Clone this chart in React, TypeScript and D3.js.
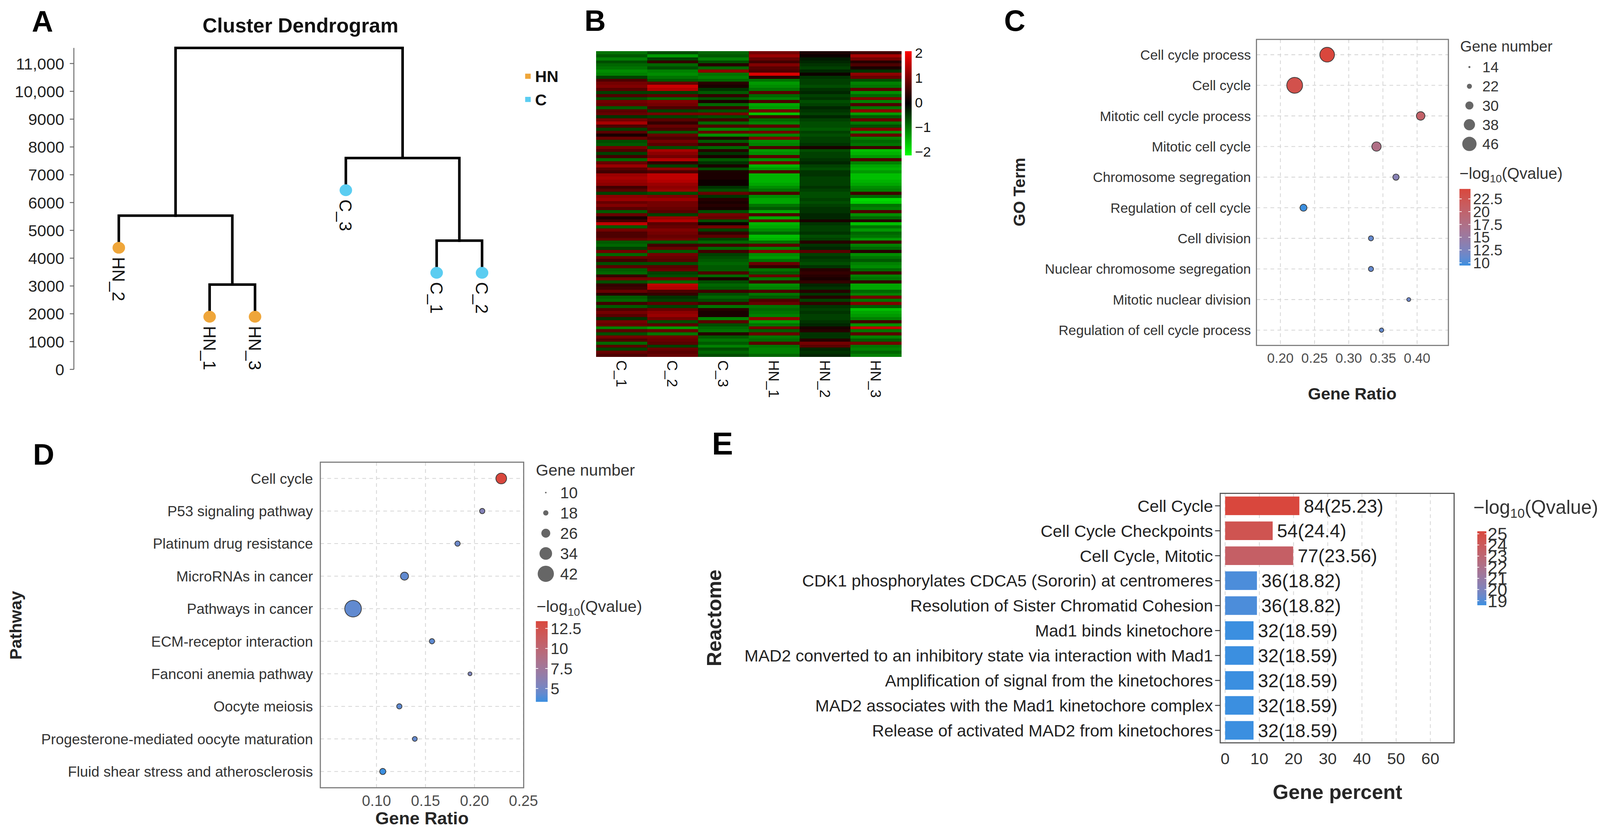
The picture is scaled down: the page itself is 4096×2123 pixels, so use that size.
import React, { useEffect } from 'react';
import * as d3 from 'd3';

const FONT = '"Liberation Sans", Arial, Helvetica, sans-serif';
const W = 4342;
const H = 2251;

// ---------- A: cluster dendrogram ----------
const leafNames = ['HN_2', 'HN_1', 'HN_3', 'C_3', 'C_1', 'C_2'];
const leafGroups = ['HN', 'HN', 'HN', 'C', 'C', 'C'];
const leafSlots = [0, 2, 3, 5, 7, 8];
// hclust style merges: negative = leaf (1-based), positive = earlier merge (1-based)
const mergeLeft = [-2, -1, -5, -4, 2];
const mergeRight = [-3, 1, -6, 3, 4];
const mergeHeights = [3050, 5530, 4630, 7600, 11560];
const dendroTicks = [0, 1000, 2000, 3000, 4000, 5000, 6000, 7000, 8000, 9000, 10000, 11000];
const dendroTickLabels = ['0', '1000', '2000', '3000', '4000', '5000', '6000', '7000', '8000', '9000', '10,000', '11,000'];
const groupNames = ['HN', 'C'];
const groupColors: Record<string, string> = { HN: '#EFA63A', C: '#5BCDF1' };

// ---------- B: heatmap (rows top to bottom) ----------
const heatCols = ['C_1', 'C_2', 'C_3', 'HN_1', 'HN_2', 'HN_3'];
const heatC1 = [
  -0.9, -0.7, -1, -0.6, -0.8, -0.9, -1.1, -1, -0.5, 0.6,
  0.9, 1, 0.7, -0.5, 0.6, -0.6, 0.9, 0.8, -0.7, 0.7,
  0.8, -0.4, 0.9, 1.3, 0.6, -0.5, 0.7, 0.2, 0.8, -0.6,
  -0.7, 0.9, 0.6, -0.5, 0.5, -0.8, 0.8, 1.2, 0.7, 0.5,
  1.2, 1.3, 1.2, 1.1, 0.5, 0.7, -0.5, 1.1, 1.2, 0.8,
  1, 0.7, -0.7, 0.8, 0.2, 0.5, 1.5, -0.7, 0.9, 0.6,
  0.6, 0.8, -0.7, -0.8, -0.5, 0.9, -0.8, 0.8, 0.5, -0.6,
  0.7, -0.7, -0.8, 0.4, 0.9, -0.6, 0.4, 0.5, 0.8, 0.3,
  -0.7, -0.8, 0.5, -0.7, 0.6, 0.9, 0.7, -0.4, 0.9, 0.8,
  -1, 0.7, -0.6, 0.9, 0.6, -0.8, 0.7, -0.5, 0.8, 0.6,
];
const heatC2 = [
  -0.6, -1.2, -0.5, 0.4, -0.8, -0.6, -1, -1.1, -0.9, -0.7,
  0.8, 1.6, 1.4, -0.5, 0.7, -0.8, 1, 0.9, 0.6, -0.5,
  0.9, -0.5, 0.7, 0.4, 0.8, 0.6, -0.7, 0.8, 0.6, 0.9,
  0.7, -0.6, 1.3, 1.1, 0.9, 1.4, 0.4, -0.5, 1.1, 0.6,
  1.5, 1.5, 1.4, 1.2, 1.1, 1.2, -0.6, 1, 1.2, 0.9,
  0.9, 0.8, 0.7, -0.5, 1.2, 1.4, 0.7, 0.8, 1, 0.9,
  0.8, 0.9, -0.7, 0.5, 0.8, -0.7, 0.9, 0.8, 0.7, -0.6,
  0.7, 0.8, -0.5, -0.6, 0.9, -0.8, 1.5, 1.4, 0.6, 0.4,
  -0.4, -0.5, 0.7, -0.5, 0.8, 1.1, 1.2, 0.9, -0.6, 0.7,
  -1.2, 0.8, -0.9, 0.9, 0.8, 0.7, -0.5, 0.8, 0.7, 0.8,
];
const heatC3 = [
  -0.8, -0.7, -1, -0.6, 0.3, -0.8, 1.1, -0.9, -1, -0.8,
  0.3, 0.2, -0.4, -0.7, 0.4, -0.6, 0.2, -0.8, 0.5, -0.6,
  0.9, -0.6, 0.5, -0.8, 0.6, -1, 0.8, -1.1, 0.3, -0.7,
  0.4, -0.8, 0.3, -0.4, 0.2, -0.7, -0.4, 0.2, -0.6, 0.2,
  0.2, 0.2, 0.1, 0.1, -0.4, -0.6, 0.8, -0.4, 0.3, 0.2,
  0.3, 0.2, -0.6, 0.9, 0.8, -0.6, 0.1, 0.9, -0.5, 0.4,
  0.7, -0.5, -0.8, 0.5, -0.8, 0.5, -0.5, -0.6, -0.7, -0.8,
  -0.7, -0.7, 0.6, -0.8, 0.2, -0.6, -0.8, -0.7, 0.5, -0.6,
  -0.8, -0.6, 0.5, -0.9, 0.3, 0.2, 0.2, -1, 0.7, -0.6,
  -0.8, -0.9, 0.3, -0.7, -0.9, -0.7, -1, -0.6, -0.8, -0.6,
];
const heatHN1 = [
  0.9, 1.2, 0.8, 0.5, 1, 0.7, 0.6, 1.7, 0.3, -0.9,
  -1.2, -1.1, -0.9, 0.7, -0.8, -1, 0.6, -1.3, -1.2, 0.9,
  -1.5, 0.6, -0.8, -1, 0.7, -0.9, 0.9, -1, 1, -1.1,
  -1, 0.6, -1.2, -1.1, 0.7, -1.1, 0.9, -1.4, -1.2, 0.6,
  -1.4, -1.4, -1.4, -1.3, -1.1, -0.9, 0.6, -1.1, -1.3, -1.3,
  -0.9, -0.7, -1.3, 0.6, -1.3, 0.8, -1.4, -1.3, -1.1, -0.8,
  -1.5, -1.4, -0.9, 0.7, -1, 1, -1.1, -1.2, -0.9, 0.8,
  0.4, -0.9, -0.7, 0.8, -0.9, 0.5, -1.1, -1, 0.6, -0.9,
  -0.7, 0.6, 0.8, -0.9, -0.8, -0.9, -1, 1.1, -1.2, -0.9,
  0.9, -0.7, 0.8, -0.9, -0.8, 0.7, -0.9, -1, -1, -0.8,
];
const heatHN2 = [
  0.2, 0.1, -0.2, -0.3, -0.4, -0.5, -0.3, 0.1, -0.4, -0.5,
  -0.5, -0.6, -0.4, -0.3, -0.5, -0.4, -0.6, -0.5, -0.3, -0.4,
  -0.5, -0.3, -0.5, -0.6, -0.6, -0.7, -0.5, -0.6, -0.5, -0.5,
  -0.4, 0.2, -0.6, -0.5, -0.5, -0.4, -0.3, -0.5, -0.6, -0.4,
  -0.4, -0.5, -0.5, -0.5, -0.4, -0.5, -0.6, -0.6, -0.5, -0.6,
  -0.5, -0.4, -0.4, -0.3, -0.3, 0.2, -0.4, -0.5, -0.5, -0.4,
  -0.6, -0.5, 0.3, -0.4, -0.3, 0.7, -0.5, -0.4, -0.5, -0.6,
  -0.4, 0.3, 0.4, 0.3, 0.2, 0.4, -0.3, -0.4, 0.3, -0.4,
  0.3, -0.5, 0.4, -0.4, -0.5, -0.4, -0.5, -0.5, -0.4, -0.3,
  0.2, 0.3, -0.4, -0.4, 0.3, 0.9, 0.7, -0.3, -0.4, -0.3,
];
const heatHN3 = [
  0.5, 1.3, 0.9, 0.3, 0.6, 0.2, -0.4, 1.1, 0.8, -0.6,
  -1, -0.9, 0.7, -1.1, -0.8, 1, -1, 0.6, -0.9, 1.1,
  -1.2, -0.7, 0.8, -0.9, -0.6, 1, -1.1, 0.8, -1, -0.8,
  -0.9, 0.5, -1.5, -1.4, -1.2, 0.6, -1, -1.3, -1.4, -1.2,
  -1.5, -1.5, -1.4, -1.3, -1.1, -1, 0.5, -0.8, -1.7, -1.6,
  -0.9, -1, 0.6, -1.1, -0.8, 0.3, -1.5, -0.9, -1.2, -0.8,
  -0.9, -1.2, 0.5, -1, -0.8, 0.3, -1.1, -0.9, -0.7, -1,
  -1.1, -0.8, 0.5, -1, -0.9, 0.4, -1.3, -1.3, -0.8, -1,
  0.9, -0.9, 1, -0.7, -1.5, -1.3, -1.2, -1, 0.5, -1.1,
  1.5, -0.9, 0.7, -1, -0.7, 0.9, -0.9, -1, -0.8, -1,
];
const heatValues = [heatC1, heatC2, heatC3, heatHN1, heatHN2, heatHN3];
const heatTicks = [2, 1, 0, -1, -2];

// ---------- C: GO enrichment ----------
const goTerms = [
  'Cell cycle process', 'Cell cycle', 'Mitotic cell cycle process', 'Mitotic cell cycle',
  'Chromosome segregation', 'Regulation of cell cycle', 'Cell division',
  'Nuclear chromosome segregation', 'Mitotic nuclear division', 'Regulation of cell cycle process',
];
const goRatio = [0.2684, 0.2209, 0.4052, 0.3406, 0.3691, 0.2338, 0.3325, 0.3325, 0.3878, 0.348];
const goCount = [47, 50, 31, 33, 25, 27, 22, 22, 19, 20];
const goQ = [24.45, 23.0, 20.4, 17.6, 13.3, 9.46, 11.0, 11.0, 11.6, 10.9];
const goRatioTicks = [0.2, 0.25, 0.3, 0.35, 0.4];
const goSizeBreaks = [14, 22, 30, 38, 46];
const goColorTicks = [10, 12.5, 15, 17.5, 20, 22.5];

// ---------- D: KEGG pathway ----------
const keggTerms = [
  'Cell cycle', 'P53 signaling pathway', 'Platinum drug resistance', 'MicroRNAs in cancer',
  'Pathways in cancer', 'ECM-receptor interaction', 'Fanconi anemia pathway', 'Oocyte meiosis',
  'Progesterone-mediated oocyte maturation', 'Fluid shear stress and atherosclerosis',
];
const keggRatio = [0.2273, 0.2079, 0.1827, 0.1286, 0.0761, 0.1566, 0.1954, 0.1233, 0.1391, 0.1064];
const keggCount = [30, 18, 18, 24, 43, 18, 15, 18, 17, 20];
const keggQ = [13.41, 5.7, 4.7, 4.3, 4.3, 4.2, 5.4, 4.2, 4.4, 3.34];
const keggRatioTicks = [0.1, 0.15, 0.2, 0.25];
const keggSizeBreaks = [10, 18, 26, 34, 42];
const keggColorTicks = [5, 7.5, 10, 12.5];

// ---------- E: Reactome ----------
const reacTerms = [
  'Cell Cycle', 'Cell Cycle Checkpoints', 'Cell Cycle, Mitotic',
  'CDK1 phosphorylates CDCA5 (Sororin) at centromeres', 'Resolution of Sister Chromatid Cohesion',
  'Mad1 binds kinetochore', 'MAD2 converted to an inhibitory state via interaction with Mad1',
  'Amplification of signal from the kinetochores', 'MAD2 associates with the Mad1 kinetochore complex',
  'Release of activated MAD2 from kinetochores',
];
const reacCount = [84, 54, 77, 36, 36, 32, 32, 32, 32, 32];
const reacQ = [25.23, 24.4, 23.56, 18.82, 18.82, 18.59, 18.59, 18.59, 18.59, 18.59];
const reacPercent = [21.7, 13.9, 19.9, 9.3, 9.3, 8.3, 8.3, 8.3, 8.3, 8.3];
const reacTicks = [0, 10, 20, 30, 40, 50, 60];
const reacColorTicks = [19, 20, 21, 22, 23, 24, 25];

const LOW = '#3B8FE0';
const HIGH = '#D9473D';
const GRID = '#d6d6d6';
const BOX = '#7a7a7a';

function PanelLetter({ x, y, t, size = 80 }: { x: number; y: number; t: string; size?: number }) {
  return <text x={x} y={y} fontSize={size} fontWeight="bold" fill="#000">{t}</text>;
}

function QTitle({ x, y, fs }: { x: number; y: number; fs: number }) {
  return (
    <text x={x} y={y} fontSize={fs} fill="#333">
      −log<tspan fontSize={fs * 0.68} dy={fs * 0.22}>10</tspan><tspan dy={-fs * 0.22}>(Qvalue)</tspan>
    </text>
  );
}

function ColorBar({ id, domain, x, w, y0, y1, ticks, labelX, fs }: any) {
  const col = d3.scaleLinear<string>().domain(domain).range([LOW, HIGH]).interpolate(d3.interpolateLab);
  const cy = d3.scaleLinear().domain(domain).range([y1, y0]);
  const stops = d3.range(0, 1.0001, 0.1);
  return (
    <g>
      <defs>
        <linearGradient id={id} x1="0" y1="1" x2="0" y2="0">
          {stops.map(s => (
            <stop key={s} offset={s} stopColor={col(domain[0] + s * (domain[1] - domain[0]))} />
          ))}
        </linearGradient>
      </defs>
      <rect x={x} y={y0} width={w} height={y1 - y0} fill={`url(#${id})`} />
      {ticks.map((t: number) => (
        <g key={t}>
          <line x1={x} x2={x + w * 0.2} y1={cy(t)} y2={cy(t)} stroke="#fff" strokeWidth={2} />
          <line x1={x + w * 0.8} x2={x + w} y1={cy(t)} y2={cy(t)} stroke="#fff" strokeWidth={2} />
          <text x={labelX} y={cy(t)} dy="0.36em" fontSize={fs} fill="#333">{t}</text>
        </g>
      ))}
    </g>
  );
}

function PanelA() {
  const y = d3.scaleLinear().domain([0, 11000]).range([1003, 172.5]);
  const x = d3.scaleLinear().domain([0, 8]).range([322, 1308]);
  const hang = 0.1 * (d3.max(mergeHeights) as number);
  const leafParentH = leafNames.map((_, i) => {
    const k = mergeLeft.findIndex((v, j) => v === -(i + 1) || mergeRight[j] === -(i + 1));
    return mergeHeights[k];
  });
  const leafPos = leafNames.map((_, i) => ({ x: x(leafSlots[i]), h: leafParentH[i] - hang }));
  const mergePos: { x: number; h: number }[] = [];
  const pos = (id: number) => (id < 0 ? leafPos[-id - 1] : mergePos[id - 1]);
  const paths: string[] = [];
  mergeHeights.forEach((h, k) => {
    const a = pos(mergeLeft[k]);
    const b = pos(mergeRight[k]);
    mergePos.push({ x: (a.x + b.x) / 2, h });
    paths.push(`M${a.x},${y(a.h)}V${y(h)}H${b.x}V${y(b.h)}`);
  });
  const top = d3.max(mergeHeights) as number;
  return (
    <g>
      <PanelLetter x={86} y={86} t="A" />
      <text x={815} y={88} textAnchor="middle" fontSize={55} fontWeight="bold" fill="#111">Cluster Dendrogram</text>
      <line x1={200} x2={200} y1={y(0)} y2={y(top)} stroke="#666" strokeWidth={2.5} />
      {dendroTicks.map((t, i) => (
        <g key={t}>
          <line x1={189} x2={200} y1={y(t)} y2={y(t)} stroke="#666" strokeWidth={2.5} />
          <text x={174} y={y(t)} dy="0.36em" textAnchor="end" fontSize={44} fill="#222">{dendroTickLabels[i]}</text>
        </g>
      ))}
      {paths.map((p, i) => (
        <path key={i} d={p} fill="none" stroke="#000" strokeWidth={7} strokeLinecap="square" />
      ))}
      {leafNames.map((n, i) => (
        <g key={n}>
          <ellipse cx={leafPos[i].x} cy={y(leafPos[i].h)} rx={17} ry={16} fill={groupColors[leafGroups[i]]} />
          <text
            transform={`translate(${leafPos[i].x},${y(leafPos[i].h) + 25}) rotate(90)`}
            dy="0.36em" fontSize={47} fill="#111"
          >{n}</text>
        </g>
      ))}
      {groupNames.map((g, i) => (
        <g key={g}>
          <rect x={1425} y={200 + i * 63} width={15} height={14} fill={groupColors[g]} />
          <text x={1452} y={207 + i * 63} dy="0.36em" fontSize={44} fontWeight="bold" fill="#111">{g}</text>
        </g>
      ))}
    </g>
  );
}

function PanelB() {
  const x = d3.scaleBand().domain(heatCols).range([1618, 2446]);
  const nRows = heatC1.length;
  const y = d3.scaleBand<number>().domain(d3.range(nRows)).range([139, 969]);
  const col = d3.scaleLinear<string>().domain([-2, 0, 2]).range(['#00FF00', '#000000', '#FF0000']).clamp(true);
  const ly = d3.scaleLinear().domain([-2, 2]).range([412, 143.6]);
  return (
    <g>
      <PanelLetter x={1586} y={84} t="B" />
      <g shapeRendering="crispEdges">
        {heatCols.map((c, ci) =>
          heatValues[ci].map((v, ri) => (
            <rect key={c + ri} x={x(c)} y={y(ri)} width={x.bandwidth() + 0.6} height={y.bandwidth() + 0.6} fill={col(v)} />
          ))
        )}
      </g>
      {heatCols.map(c => (
        <text key={c} transform={`translate(${(x(c) as number) + x.bandwidth() / 2},978) rotate(90)`}
          dy="0.36em" fontSize={40} fill="#111">{c}</text>
      ))}
      <defs>
        <linearGradient id="heatGrad" x1="0" y1="0" x2="0" y2="1">
          <stop offset="0" stopColor="#FF0000" />
          <stop offset="0.5" stopColor="#000000" />
          <stop offset="1" stopColor="#00FF00" />
        </linearGradient>
      </defs>
      <rect x={2456} y={139} width={18} height={283} fill="url(#heatGrad)" />
      {heatTicks.map(t => (
        <text key={t} x={2483} y={ly(t)} dy="0.36em" fontSize={38} fill="#111">{t < 0 ? `−${-t}` : t}</text>
      ))}
    </g>
  );
}

function DotPlot({ cfg }: { cfg: any }) {
  const { box } = cfg;
  const x = d3.scaleLinear().domain(cfg.xDomain).range([box.x0, box.x1]);
  const y = d3.scalePoint<string>().domain(cfg.terms).range([box.y0, box.y1]).padding(0.5);
  const r = d3.scaleLinear().domain(cfg.sizeDomain).range(cfg.sizeRange);
  const qDomain = d3.extent(cfg.q as number[]) as [number, number];
  const col = d3.scaleLinear<string>().domain(qDomain).range([LOW, HIGH]).interpolate(d3.interpolateLab);
  const fmt = d3.format('.2f');
  return (
    <g>
      {cfg.terms.map((t: string) => (
        <line key={t} x1={box.x0} x2={box.x1} y1={y(t)} y2={y(t)} stroke={GRID} strokeWidth={2.2} strokeDasharray="10 9" />
      ))}
      {cfg.xTicks.map((t: number) => (
        <line key={t} x1={x(t)} x2={x(t)} y1={box.y0} y2={box.y1} stroke={GRID} strokeWidth={2.2} strokeDasharray="10 9" />
      ))}
      <rect x={box.x0} y={box.y0} width={box.x1 - box.x0} height={box.y1 - box.y0} fill="none" stroke={BOX} strokeWidth={3} />
      {cfg.terms.map((t: string, i: number) => (
        <circle key={t} cx={x(cfg.ratio[i])} cy={y(t)} r={r(cfg.count[i])} fill={col(cfg.q[i])} stroke="#3a3a3a" strokeWidth={2} />
      ))}
      {cfg.terms.map((t: string) => (
        <text key={t} x={cfg.labelX} y={y(t)} dy="0.36em" textAnchor="end" fontSize={cfg.labelFont} fill="#333">{t}</text>
      ))}
      {cfg.xTicks.map((t: number) => (
        <text key={t} x={x(t)} y={cfg.tickY} textAnchor="middle" fontSize={cfg.tickFont} fill="#4d4d4d">{fmt(t)}</text>
      ))}
      <text x={cfg.xTitle.x} y={cfg.xTitle.y} textAnchor="middle" fontSize={cfg.xTitle.fs} fontWeight="bold" fill="#262626">Gene Ratio</text>
      <text transform={`translate(${cfg.yTitle.x},${cfg.yTitle.y}) rotate(-90)`} dy="0.36em" textAnchor="middle"
        fontSize={cfg.yTitle.fs} fontWeight="bold" fill="#262626">{cfg.yTitle.t}</text>
      <text x={cfg.size.titleX} y={cfg.size.titleY} fontSize={cfg.size.titleFs} fill="#333">Gene number</text>
      {cfg.sizeBreaks.map((b: number, i: number) => (
        <g key={b}>
          <circle cx={cfg.size.x} cy={cfg.size.y0 + i * cfg.size.step} r={r(b)} fill="#666" />
          <text x={cfg.size.labelX} y={cfg.size.y0 + i * cfg.size.step} dy="0.36em" fontSize={cfg.size.fs} fill="#333">{b}</text>
        </g>
      ))}
      <QTitle x={cfg.cb.titleX} y={cfg.cb.titleY} fs={cfg.cb.titleFs} />
      <ColorBar id={cfg.id} domain={qDomain} x={cfg.cb.x} w={cfg.cb.w} y0={cfg.cb.y0} y1={cfg.cb.y1}
        ticks={cfg.colorTicks} labelX={cfg.cb.labelX} fs={cfg.cb.fs} />
    </g>
  );
}

const goCfg = {
  id: 'cbC', terms: goTerms, ratio: goRatio, count: goCount, q: goQ,
  box: { x0: 3410, x1: 3931, y0: 107, y1: 938 },
  xDomain: [0.165, 0.4458], xTicks: goRatioTicks,
  labelX: 3395, labelFont: 37.3, tickY: 985, tickFont: 37,
  xTitle: { x: 3670, y: 1085, fs: 45.6 },
  yTitle: { x: 2766, y: 521.5, fs: 44.4, t: 'GO Term' },
  sizeDomain: [14, 46], sizeRange: [2.7, 19.4], sizeBreaks: goSizeBreaks,
  size: { x: 3988, y0: 182, step: 52.2, labelX: 4023, fs: 40, titleX: 3963, titleY: 140, titleFs: 41 },
  colorTicks: goColorTicks,
  cb: { x: 3961, w: 30, y0: 513, y1: 721, labelX: 3998, fs: 41, titleX: 3961, titleY: 486, titleFs: 43 },
};

const keggCfg = {
  id: 'cbD', terms: keggTerms, ratio: keggRatio, count: keggCount, q: keggQ,
  box: { x0: 869, x1: 1421, y0: 1255, y1: 2139 },
  xDomain: [0.0427, 0.2502], xTicks: keggRatioTicks,
  labelX: 849, labelFont: 39.5, tickY: 2188, tickFont: 40.6,
  xTitle: { x: 1145, y: 2238, fs: 48 },
  yTitle: { x: 41, y: 1698, fs: 46, t: 'Pathway' },
  sizeDomain: [10, 42], sizeRange: [2.2, 22], sizeBreaks: keggSizeBreaks,
  size: { x: 1481, y0: 1337.6, step: 55.1, labelX: 1520, fs: 43, titleX: 1454, titleY: 1291, titleFs: 44 },
  colorTicks: keggColorTicks,
  cb: { x: 1454, w: 32, y0: 1686.6, y1: 1905.7, labelX: 1494, fs: 43, titleX: 1456, titleY: 1662, titleFs: 44 },
};

function PanelE() {
  const box = { x0: 3311.6, x1: 3946.5, y0: 1339.6, y1: 2017 };
  const x = d3.scaleLinear().domain([-1.44, 66.95]).range([box.x0, box.x1]);
  const y = d3.scalePoint<string>().domain(reacTerms).range([box.y0, box.y1]).padding(0.5);
  const barH = y.step() * 0.745;
  const qDomain = d3.extent(reacQ) as [number, number];
  const col = d3.scaleLinear<string>().domain(qDomain).range([LOW, HIGH]).interpolate(d3.interpolateLab);
  return (
    <g>
      <PanelLetter x={1932} y={1234} t="E" size={86} />
      {reacTicks.map(t => (
        <line key={t} x1={x(t)} x2={x(t)} y1={box.y0} y2={box.y1} stroke={GRID} strokeWidth={2.2} strokeDasharray="10 9" />
      ))}
      {reacTerms.map((t, i) => (
        <rect key={t} x={x(0)} y={(y(t) as number) - barH / 2} width={x(reacPercent[i]) - x(0)} height={barH} fill={col(reacQ[i])} />
      ))}
      <rect x={box.x0} y={box.y0} width={box.x1 - box.x0} height={box.y1 - box.y0} fill="none" stroke="#555" strokeWidth={3} />
      {reacTerms.map((t, i) => (
        <g key={t}>
          <line x1={box.x0 - 14} x2={box.x0} y1={y(t)} y2={y(t)} stroke="#333" strokeWidth={2.5} />
          <text x={3292} y={y(t)} dy="0.36em" textAnchor="end" fontSize={45.5} fill="#222">{t}</text>
          <text x={x(reacPercent[i]) + 12} y={y(t)} dy="0.36em" fontSize={50.5} fill="#222">{`${reacCount[i]}(${reacQ[i]})`}</text>
        </g>
      ))}
      {reacTicks.map(t => (
        <text key={t} x={x(t)} y={2074.5} textAnchor="middle" fontSize={44} fill="#333">{t}</text>
      ))}
      <text x={3630} y={2169} textAnchor="middle" fontSize={55} fontWeight="bold" fill="#262626">Gene percent</text>
      <text transform="translate(1937,1678) rotate(-90)" dy="0.36em" textAnchor="middle" fontSize={55} fontWeight="bold" fill="#262626">Reactome</text>
      <QTitle x={3999} y={1395} fs={52} />
      <ColorBar id="cbE" domain={qDomain} x={4009.5} w={24.5} y0={1442.5} y1={1643.4}
        ticks={reacColorTicks} labelX={4037.5} fs={48} />
    </g>
  );
}

export default function App() {
  useEffect(() => {
    document.body.style.margin = '0';
  }, []);
  return (
    <div style={{ margin: 0, padding: 0, lineHeight: 0 }}>
      <svg width={4096} height={2123} viewBox={`0 0 ${W} ${H}`} style={{ display: 'block' }} fontFamily={FONT}>
        <rect width={W} height={H} fill="#fff" />
        <PanelA />
        <PanelB />
        <PanelLetter x={2725} y={84} t="C" />
        <DotPlot cfg={goCfg} />
        <PanelLetter x={89} y={1262} t="D" />
        <DotPlot cfg={keggCfg} />
        <PanelE />
      </svg>
    </div>
  );
}
